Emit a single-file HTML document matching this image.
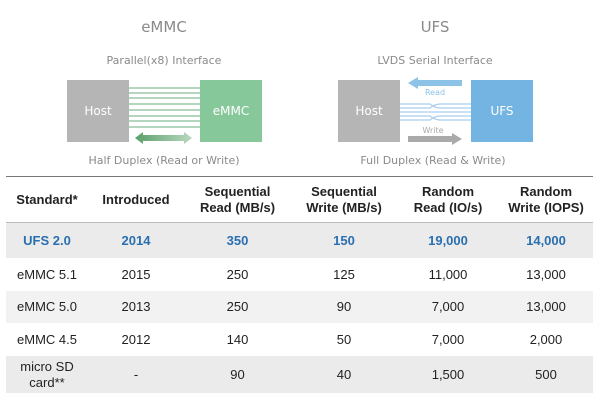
<!DOCTYPE html>
<html><head><meta charset="utf-8"><style>
body{margin:0;width:600px;height:400px;background:#fff;font-family:"Liberation Sans","DejaVu Sans",sans-serif;overflow:hidden;position:relative}
.t{position:absolute;color:#8a8a8a;text-align:center;transform:translateX(-50%);white-space:nowrap;font-family:"DejaVu Sans",sans-serif}
table{position:absolute;left:6px;top:176px;width:587px;border-collapse:collapse;border-top:1.5px solid #777;font-size:13px;color:#222}
td{text-align:center;padding:0;line-height:16px}
th{font-weight:bold;font-size:13px;line-height:16px;border-bottom:1.5px solid #bbb;height:43px}
.u td{background:#ebebeb;color:#2a6fb0;font-weight:bold;height:35px}
.w td{background:#fff;height:33px}
.g td{background:#f2f2f2;height:32px}
.m td{background:#ebebeb;height:37px}
</style></head><body>
<div class="t" style="left:164px;top:18px;font-size:15px">eMMC</div>
<div class="t" style="left:164px;top:54px;font-size:11px">Parallel(x8) Interface</div>
<div class="t" style="left:164px;top:154px;font-size:11px">Half Duplex (Read or Write)</div>
<div class="t" style="left:435px;top:18px;font-size:15px">UFS</div>
<div class="t" style="left:435px;top:54px;font-size:11px">LVDS Serial Interface</div>
<div class="t" style="left:433px;top:154px;font-size:11px">Full Duplex (Read &amp; Write)</div>
<svg width="600" height="175" style="position:absolute;left:0;top:0" font-family="DejaVu Sans,sans-serif">
<defs><linearGradient id="gl" x1="0" x2="1"><stop offset="0" stop-color="#5aa06a"/><stop offset="1" stop-color="#b8d8c0"/></linearGradient></defs>
<rect x="67" y="80" width="62" height="62" fill="#b5b5b5"/>
<text x="98" y="115" fill="#fff" font-size="12" text-anchor="middle">Host</text>
<rect x="200" y="80" width="62" height="62" fill="#86c89a"/>
<text x="231" y="115" fill="#fff" font-size="12" text-anchor="middle">eMMC</text>
<g stroke="#9cc9a8" stroke-width="1.5">
<line x1="129" x2="200" y1="88" y2="88"/><line x1="129" x2="200" y1="93" y2="93"/><line x1="129" x2="200" y1="98" y2="98"/><line x1="129" x2="200" y1="104" y2="104"/><line x1="129" x2="200" y1="110" y2="110"/><line x1="129" x2="200" y1="116" y2="116"/><line x1="129" x2="200" y1="121" y2="121"/><line x1="129" x2="200" y1="127" y2="127"/></g>
<polygon points="135,138 143,132 143,135 184,135 184,132 192,138 184,144 184,141 143,141 143,144" fill="url(#gl)"/>
<rect x="338" y="80" width="62" height="62" fill="#b5b5b5"/>
<text x="369" y="115" fill="#fff" font-size="12" text-anchor="middle">Host</text>
<rect x="471" y="80" width="62" height="62" fill="#74b4e2"/>
<text x="502" y="115" fill="#fff" font-size="12" text-anchor="middle">UFS</text>
<polygon points="408,83 418,77 418,80 462,80 462,86 418,86 418,89" fill="#8ec3e8"/>
<text x="435" y="95" fill="#8ec3e8" font-size="8" text-anchor="middle">Read</text>
<g stroke="#a9cfee" stroke-width="1.2" fill="none">
<path d="M400 104 H430 Q435 108 440 108 H471"/><path d="M400 108 H430 Q435 104 440 104 H471"/>
<path d="M400 112 H471"/>
<path d="M400 116 H430 Q435 120 440 120 H471"/><path d="M400 120 H430 Q435 116 440 116 H471"/></g>
<text x="433" y="133" fill="#aaa" font-size="8" text-anchor="middle">Write</text>
<polygon points="408,136 452,136 452,133 462,139 452,145 452,142 408,142" fill="#aaa"/>
</svg>
<table>
<tr><th style="width:80px">Standard*</th><th style="width:94px">Introduced</th><th style="width:105px">Sequential<br>Read (MB/s)</th><th style="width:104px">Sequential<br>Write (MB/s)</th><th style="width:100px">Random<br>Read (IO/s)</th><th>Random<br>Write (IOPS)</th></tr>
<tr class="u"><td>UFS 2.0</td><td>2014</td><td>350</td><td>150</td><td>19,000</td><td>14,000</td></tr>
<tr class="w"><td>eMMC 5.1</td><td>2015</td><td>250</td><td>125</td><td>11,000</td><td>13,000</td></tr>
<tr class="g"><td>eMMC 5.0</td><td>2013</td><td>250</td><td>90</td><td>7,000</td><td>13,000</td></tr>
<tr class="w"><td>eMMC 4.5</td><td>2012</td><td>140</td><td>50</td><td>7,000</td><td>2,000</td></tr>
<tr class="m"><td>micro SD<br>card**</td><td>-</td><td>90</td><td>40</td><td>1,500</td><td>500</td></tr>
</table>
</body></html>
